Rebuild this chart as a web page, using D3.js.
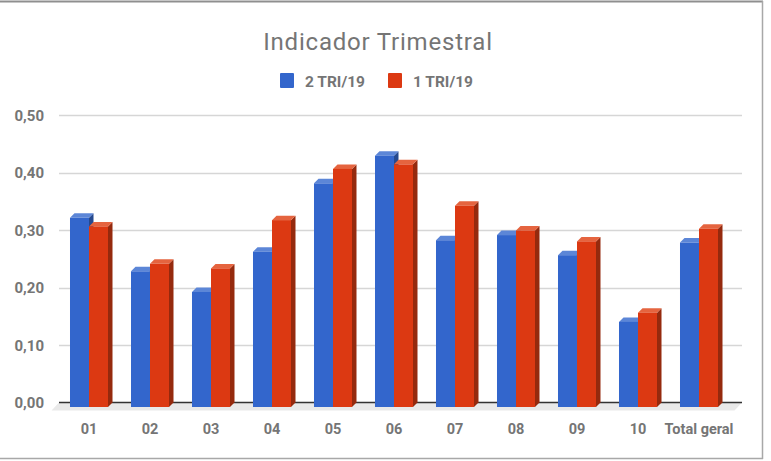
<!DOCTYPE html>
<html>
<head>
<meta charset="utf-8">
<script src="https://cdn.jsdelivr.net/npm/d3@7"></script>
<style>
  html, body { margin: 0; padding: 0; background: #fff; }
  svg { display: block; }
  text { font-family: Roboto, "Noto Sans", Arial, sans-serif; }
</style>
</head>
<body>
<svg id="chart" width="771" height="461"></svg>
<script>
// ---- data ----
const categories = ["01", "02", "03", "04", "05", "06", "07", "08", "09", "10", "Total geral"];
const seriesNames = ["2 TRI/19", "1 TRI/19"];
const tri2_19 = [0.329, 0.236, 0.200, 0.270, 0.389, 0.437, 0.290, 0.299, 0.264, 0.148, 0.286];
const tri1_19 = [0.314, 0.249, 0.241, 0.325, 0.414, 0.422, 0.350, 0.307, 0.288, 0.164, 0.310];
const yTicks = [0, 0.1, 0.2, 0.3, 0.4, 0.5];
const title = "Indicador Trimestral";

const seriesValues = [tri2_19, tri1_19];
const colors = {
  front: ["#3366cc", "#dc3912"],
  top:   ["#5c86d7", "#e5643f"],
  side:  ["#25498f", "#952a0e"]
};

const svg = d3.select("#chart");
const depth = 4.5;
const fontStack = "Roboto, 'Noto Sans', Arial, sans-serif";

// scales (back plane for grid)
const y = d3.scaleLinear().domain([0, 0.5]).range([402.5, 115]);
const x0 = d3.scaleBand().domain(categories).range([58.5, 729.5]).paddingInner(0).paddingOuter(0);
const x1 = d3.scaleBand().domain(seriesNames).range([0, x0.bandwidth()]).paddingInner(0).paddingOuter(0.605);

const gridLeft = 59, gridRight = 742;

// frame
svg.append("line").attr("x1", 0).attr("x2", 763).attr("y1", 1.5).attr("y2", 1.5)
  .attr("stroke", "#8f8f8f").attr("stroke-width", 2);
svg.append("line").attr("x1", 762.5).attr("x2", 762.5).attr("y1", 1).attr("y2", 459)
  .attr("stroke", "#a8a8a8").attr("stroke-width", 1.5);
svg.append("line").attr("x1", 0).attr("x2", 763).attr("y1", 458.5).attr("y2", 458.5)
  .attr("stroke", "#a8a8a8").attr("stroke-width", 1.5);

// title
svg.append("text").attr("x", 378).attr("y", 49.5).attr("text-anchor", "middle")
  .attr("font-size", 24).attr("letter-spacing", 0.8).attr("fill", "#757575").text(title);

// legend
const legendItems = [
  { name: seriesNames[0], x: 280, color: colors.front[0] },
  { name: seriesNames[1], x: 388, color: colors.front[1] }
];
legendItems.forEach(it => {
  svg.append("rect").attr("x", it.x).attr("y", 73).attr("width", 14).attr("height", 15)
    .attr("rx", 1).attr("fill", it.color);
  svg.append("text").attr("x", it.x + 25).attr("y", 86.5).attr("font-size", 15.5)
    .attr("font-weight", "bold").attr("fill", "#757575").text(it.name);
});

// gridlines
svg.append("g").selectAll("line").data(yTicks.filter(d => d > 0)).join("line")
  .attr("x1", gridLeft).attr("x2", gridRight)
  .attr("y1", d => Math.round(y(d)) + 0.5).attr("y2", d => Math.round(y(d)) + 0.5)
  .attr("stroke", "#d6d6d6").attr("stroke-width", 1.3);

// y axis labels
const fmt = d => d3.format(".2f")(d).replace(".", ",");
const yAxis = d3.axisLeft(y).tickValues(yTicks).tickFormat(fmt).tickSize(0).tickPadding(0);
const yg = svg.append("g").attr("transform", "translate(44,0)").call(yAxis);
yg.select(".domain").remove();
yg.selectAll("text").attr("font-size", 15).attr("font-weight", "bold")
  .attr("fill", "#757575").attr("font-family", fontStack).attr("dy", "0.35em");

// floor
const y0 = y(0);
svg.append("polygon")
  .attr("points", [[gridLeft, y0], [gridRight, y0], [gridRight - 7.5, y0 + 8], [gridLeft - 7.5, y0 + 8]].map(p => p.join(",")).join(" "))
  .attr("fill", "#e9e9e9");
svg.append("line").attr("x1", gridLeft).attr("x2", gridRight).attr("y1", y0).attr("y2", y0)
  .attr("stroke", "#333").attr("stroke-width", 1.5);

// bars (3D)
const bars = svg.append("g");
categories.forEach((cat, i) => {
  seriesNames.forEach((s, j) => {
    const v = seriesValues[j][i];
    const bx = x0(cat) + x1(s);
    const bw = x1.bandwidth();
    const top = y(v) + depth;
    const bottom = y(0) + depth;
    const g = bars.append("g");
    g.append("polygon")
      .attr("points", [[bx + bw, top], [bx + bw + depth, top - depth], [bx + bw + depth, bottom - depth], [bx + bw, bottom]].map(p => p.join(",")).join(" "))
      .attr("fill", colors.side[j]);
    g.append("polygon")
      .attr("points", [[bx, top], [bx + depth, top - depth], [bx + bw + depth, top - depth], [bx + bw, top]].map(p => p.join(",")).join(" "))
      .attr("fill", colors.top[j]);
    g.append("rect").attr("x", bx).attr("y", top).attr("width", bw).attr("height", bottom - top)
      .attr("fill", colors.front[j]);
  });
});

// x axis labels
const xAxis = d3.axisBottom(x0).tickSize(0).tickPadding(0);
const xg = svg.append("g").attr("transform", "translate(0,434)").call(xAxis);
xg.select(".domain").remove();
xg.selectAll("text").attr("dy", 0).attr("font-size", 14.5).attr("font-weight", "bold")
  .attr("fill", "#757575").attr("font-family", fontStack);
</script>
</body>
</html>
